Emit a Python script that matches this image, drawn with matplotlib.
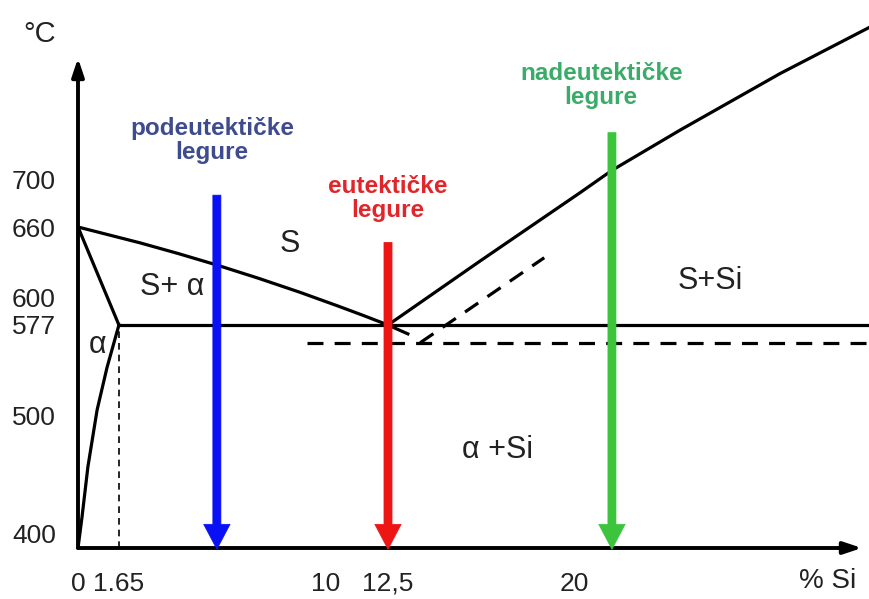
import numpy as np
import matplotlib
matplotlib.use('Agg')
from matplotlib import pyplot as plt

plt.rcParams['font.family'] = ['Liberation Sans', 'DejaVu Sans']

# phase diagram Al-Si (schematic), composition in % Si, temperature in C
liq_al_x = [0, 2.5, 4.03, 5.6, 7.26, 8.95, 10.48, 11.49, 12.5]
liq_al_t = [660, 646.6, 637.6, 627.8, 616.7, 604.7, 593.1, 585.2, 577]

sol_x = [0, 1.65]
sol_t = [660, 577]

solvus_x = [1.65, 1.17, 0.77, 0.40, 0.16, 0]
solvus_t = [577, 541, 505, 457, 414, 388]

liq_si_x = [12.5, 16.2, 20.24, 21.53, 24.27, 28.31, 31.9]
liq_si_t = [577, 631, 689, 708, 742, 790, 829]

eut_x = [1.65, 32]
eut_t = [577, 577]

# metastable (modified) lines
meta_h_x = [9.23, 32]
meta_h_t = [562, 562]
meta_d_x = [13.8, 18.8]
meta_d_t = [562, 634]
meta_s_x = [12.6, 13.3]
meta_s_t = [576, 569.5]

# alloys
alloy_x = [5.6, 12.5, 21.53]
alloy_top = [687, 647, 740]
alloy_col = ['#0a10f5', '#ee1515', '#3cc43c']
alloy_lbl = ['podeutektičke\nlegure', 'eutektičke\nlegure', 'nadeutektičke\nlegure']
alloy_lbl_x = [5.4, 12.5, 21.1]
alloy_lbl_t = [733, 684, 780]
alloy_lbl_col = ['#3f4b8f', '#e0262b', '#3aab68']

# region labels
reg_lbl = ['S', 'S+ α', 'α', 'S+Si', 'α +Si']
reg_x = [8.55, 3.8, 0.8, 25.5, 16.9]
reg_t = [646, 609, 560, 614, 471]

x_ticks = [0, 1.65, 10, 12.5, 20]
x_tick_lbl = ['0', '1.65', '10', '12,5', '20']
y_ticks = [400, 500, 577, 600, 660, 700]
y_tick_lbl = ['400', '500', '577', '600', '660', '700']

fig = plt.figure(figsize=(8.69, 5.99), dpi=100)
ax = fig.add_axes([78/869, 51/599, 791/869, 548/599])
ax.set_xlim(0, 791/24.8)
ax.set_ylim(388.1, 852.3)
for s in ax.spines.values():
    s.set_visible(False)

lw = 2.3
ax.plot(liq_al_x, liq_al_t, color='black', lw=lw)
ax.plot(sol_x, sol_t, color='black', lw=lw)
ax.plot(solvus_x, solvus_t, color='black', lw=lw)
ax.plot(liq_si_x, liq_si_t, color='black', lw=lw)
ax.plot(eut_x, eut_t, color='black', lw=lw, clip_on=True)
ax.plot(meta_h_x, meta_h_t, color='black', lw=lw, dashes=(5, 3.5))
ax.plot(meta_d_x, meta_d_t, color='black', lw=lw, dashes=(5, 3.5))
ax.plot(meta_s_x, meta_s_t, color='black', lw=lw)
ax.plot([1.65, 1.65], [388, 577], color='black', lw=1.2, dashes=(4, 3))

# axes with arrows
ax.annotate('', xy=(0.991, 0), xytext=(0, 0), xycoords='axes fraction',
            arrowprops=dict(arrowstyle='-|>,head_length=0.9,head_width=0.3',
                            lw=2.8, color='black', mutation_scale=12,
                            shrinkA=0, shrinkB=0))
ax.annotate('', xy=(0, 0.894), xytext=(0, 0), xycoords='axes fraction',
            arrowprops=dict(arrowstyle='-|>,head_length=0.9,head_width=0.3',
                            lw=2.8, color='black', mutation_scale=12,
                            shrinkA=0, shrinkB=0))

for x, top, c in zip(alloy_x, alloy_top, alloy_col):
    ax.annotate('', xy=(x, 387), xytext=(x, top), annotation_clip=False,
                arrowprops=dict(arrowstyle='simple,head_length=0.9,head_width=0.95,tail_width=0.29',
                                lw=0.5, fc=c, ec=c, mutation_scale=20,
                                shrinkA=0, shrinkB=0))

for lbl, x, t, c in zip(alloy_lbl, alloy_lbl_x, alloy_lbl_t, alloy_lbl_col):
    ax.text(x, t, lbl, color=c, fontsize=17.5, fontweight='bold',
            ha='center', va='center', linespacing=1.05)

for lbl, x, t in zip(reg_lbl, reg_x, reg_t):
    ax.text(x, t, lbl, color='#222222', fontsize=22, ha='center', va='center')

ax.set_xticks(x_ticks)
ax.set_xticklabels(x_tick_lbl, fontsize=19, color='#222222')
ax.set_yticks(y_ticks)
ax.set_yticklabels(y_tick_lbl, fontsize=19, color='#222222')
ax.tick_params(axis='x', length=0, pad=17)
ax.tick_params(axis='y', length=0, pad=16)

fig.text(40/869, 1-34/599, '°C', fontsize=21, color='#222222', ha='center', va='center')
fig.text(828/869, 1-581/599, '% Si', fontsize=20, color='#222222', ha='center', va='center')

fig.savefig('out.png', dpi=100)
